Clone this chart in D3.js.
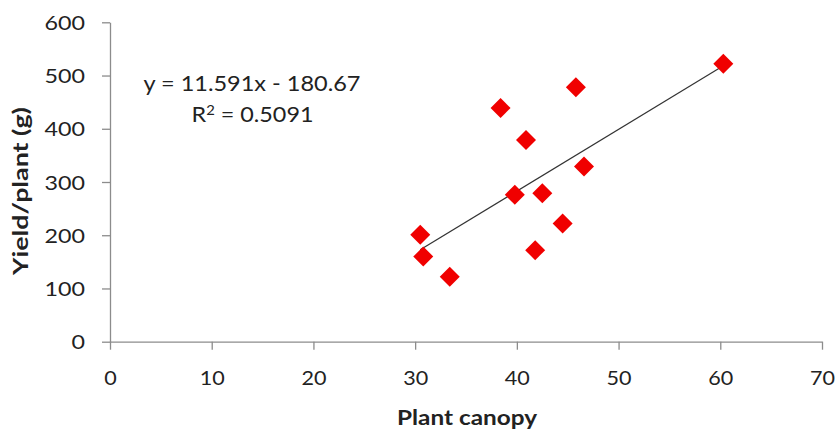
<!DOCTYPE html>
<html>
<head>
    <meta charset="utf-8">
    <style>
        body { margin: 0; background: #fff; }
        text { font-family: Lato, "Open Sans", sans-serif; fill: #222; }
        .tick text { font-size: 20px; }
        .axis-title { font-size: 21px; font-weight: bold; }
        .eq { font-size: 22px; }
    </style>
</head>
<body>
    <svg width="838" height="430"></svg>

    <script src="https://d3js.org/d3.v7.min.js"></script>

    <script>
        // data
        var canopy = [60.3, 45.8, 38.4, 40.9, 46.6, 39.8, 42.5, 44.5, 30.5, 30.8, 41.8, 33.4];
        var yieldG = [522, 478, 439, 379, 329, 276, 279, 222, 201, 160, 172, 122];
        var xTicks = [0, 10, 20, 30, 40, 50, 60, 70];
        var yTicks = [0, 100, 200, 300, 400, 500, 600];
        var slope = 11.591, intercept = -180.67;

        var svg = d3.select("svg");
        var x = d3.scaleLinear().domain([0, 70]).range([110, 822]);
        var y = d3.scaleLinear().domain([0, 600]).range([341.7, 22.3]);

        // stretch text to the widths seen in the picture (the original font is wider)
        function fit(sel, w) {
            sel.attr("textLength", w).attr("lengthAdjust", "spacingAndGlyphs");
        }

        var xAxis = svg.append("g")
                .attr("transform", "translate(0," + y(0) + ")")
                .call(d3.axisBottom(x).tickValues(xTicks).tickSize(8).tickSizeOuter(0));
        xAxis.selectAll(".tick text").attr("dy", null).attr("y", 43.5)
                .each(function(d) { fit(d3.select(this), String(d).length * 12.5); });

        var yAxis = svg.append("g")
                .attr("transform", "translate(" + x(0) + ",0)")
                .call(d3.axisLeft(y).tickValues(yTicks).tickSize(8).tickPadding(17).tickSizeOuter(0));
        yAxis.selectAll(".tick text").attr("dy", "0.36em")
                .each(function(d) { fit(d3.select(this), String(d).length * 13.5); });

        svg.selectAll(".domain, .tick line").attr("stroke", "#8c8c8c").attr("stroke-width", 1.3);

        // trend line over the data range
        var ext = d3.extent(canopy);
        svg.append("line")
                .attr("x1", x(ext[0])).attr("y1", y(slope * ext[0] + intercept))
                .attr("x2", x(ext[1])).attr("y2", y(slope * ext[1] + intercept))
                .attr("stroke", "#333").attr("stroke-width", 1.2);

        var pts = canopy.map(function(d, i) { return [d, yieldG[i]]; });
        svg.selectAll(".pt").data(pts).enter().append("path")
                .attr("class", "pt")
                .attr("d", d3.symbol().type(d3.symbolSquare).size(200))
                .attr("transform", function(d) { return "translate(" + x(d[0]) + "," + y(d[1]) + ") rotate(45)"; })
                .attr("fill", "#f00000");

        // equation
        svg.append("text").attr("class", "eq")
                .attr("x", 252).attr("y", 90.5).attr("text-anchor", "middle")
                .call(fit, 217)
                .text("y = 11.591x - 180.67");
        var r2 = svg.append("text").attr("class", "eq")
                .attr("x", 252.5).attr("y", 121.5).attr("text-anchor", "middle")
                .call(fit, 122);
        r2.append("tspan").text("R");
        r2.append("tspan").attr("font-size", "14px").attr("dy", -7).text("2");
        r2.append("tspan").attr("dy", 7).text(" = 0.5091");

        svg.append("text").attr("class", "axis-title")
                .attr("x", 467).attr("y", 425).attr("text-anchor", "middle")
                .call(fit, 140)
                .text("Plant canopy");
        svg.append("text").attr("class", "axis-title")
                .attr("transform", "translate(28,191) rotate(-90)")
                .attr("text-anchor", "middle")
                .call(fit, 168)
                .text("Yield/plant (g)");
    </script>
</body>
</html>
